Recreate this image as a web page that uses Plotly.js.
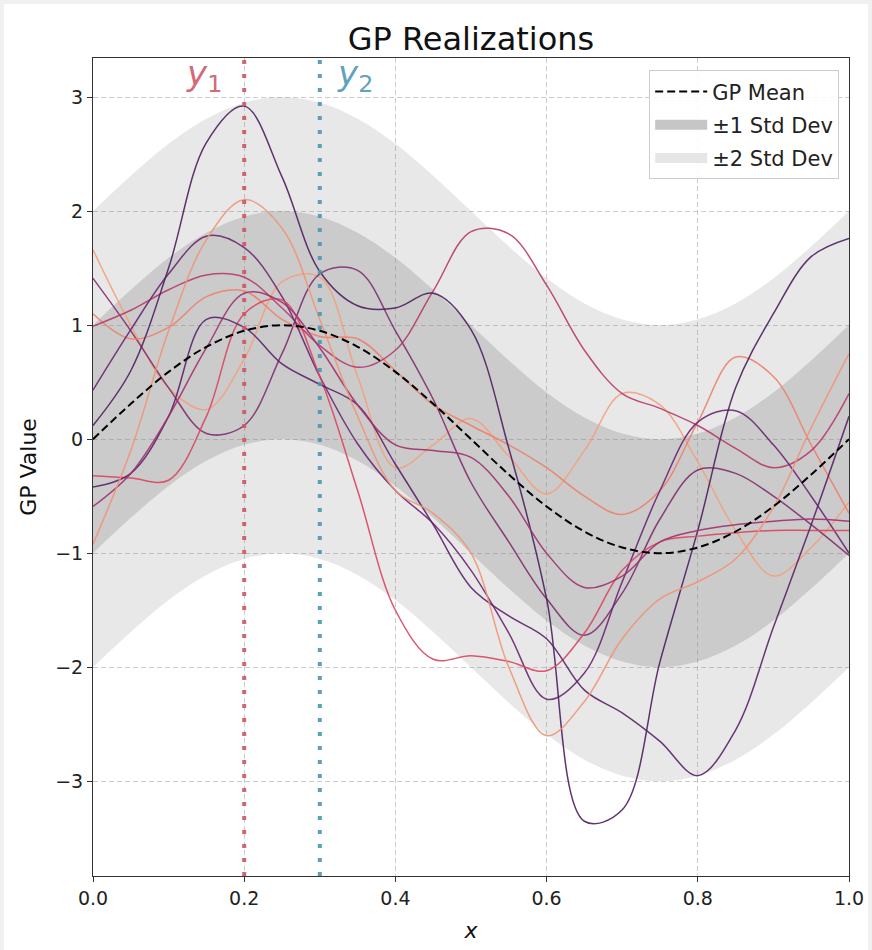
<!DOCTYPE html>
<html>
<head>
<meta charset="utf-8">
<script src="https://cdn.plot.ly/plotly-3.0.1.min.js"></script>
<style>
html, body { margin: 0; padding: 0; background: #f0f0f0; }
#chart { position: absolute; left: 4px; top: 4px; width: 864px; height: 946px; background: #ffffff; }
</style>
</head>
<body>
<div id="chart"></div>
<script>
// ---------------- data ----------------
const xGrid = [0, 0.05, 0.1, 0.15, 0.2, 0.25, 0.3, 0.35, 0.4, 0.45, 0.5,
               0.55, 0.6, 0.65, 0.7, 0.75, 0.8, 0.85, 0.9, 0.95, 1.0];

const gpMean = [0, 0.31, 0.59, 0.81, 0.95, 1.0, 0.95, 0.81, 0.59, 0.31, 0,
                -0.31, -0.59, -0.81, -0.95, -1.0, -0.95, -0.81, -0.59, -0.31, 0];
const gpStd = [1, 1, 1, 1, 1, 1, 1, 1, 1, 1, 1, 1, 1, 1, 1, 1, 1, 1, 1, 1, 1];

const real1  = [1.66, 1.0, 0.45, 0.26, 0.7, 1.38, 1.42, 0.55, -0.25, -0.05, 0.18, -0.15, -0.48, -0.1, 0.4, 0.3, -0.2, -0.8, -1.2, -0.95, -0.55];
const real2  = [1.41, 0.95, 0.45, 0.05, 0.12, 0.75, 1.45, 1.48, 0.95, 0.35, -0.38, -0.9, -1.4, -1.72, -1.35, -0.7, -0.27, -0.3, -0.5, -0.75, -1.02];
const real3  = [1.10, 0.88, 0.98, 1.25, 1.3, 1.05, 0.9, 0.88, 0.6, 0.3, 0.12, -0.05, -0.25, -0.5, -0.66, -0.45, 0.15, 0.72, 0.55, -0.05, -0.65];
const real4  = [0.99, 1.13, 1.31, 1.44, 1.42, 1.15, 0.82, 0.63, 0.78, 1.3, 1.82, 1.8, 1.35, 0.78, 0.4, 0.27, 0.12, -0.08, -0.25, -0.1, 0.4];
const real5  = [0.43, 0.96, 1.45, 1.78, 1.68, 1.25, 0.55, -0.04, -0.45, -0.74, -1.15, -1.7, -2.28, -2.05, -1.25, -0.45, 0.15, 0.25, -0.05, -0.5, -1.0];
const real6  = [0.12, 0.6, 1.5, 2.6, 2.92, 2.3, 1.47, 1.17, 1.15, 1.28, 0.96, -0.08, -1.4, -3.35, -3.25, -1.95, -0.8, 0.45, 1.1, 1.6, 1.76];
const real7  = [-0.32, -0.34, -0.36, 0.2, 1.1, 1.22, 0.55, -0.45, -1.5, -1.93, -1.9, -1.95, -2.03, -1.7, -1.15, -0.9, -0.85, -0.82, -0.8, -0.8, -0.8];
const real8  = [-0.42, -0.3, 0.2, 1.05, 0.98, 0.66, 0.48, 0.3, -0.22, -0.75, -1.3, -1.55, -1.75, -2.2, -2.4, -2.65, -2.95, -2.55, -1.65, -0.75, 0.2];
const real9  = [-0.59, -0.3, 0.2, 0.8, 1.28, 1.2, 0.8, 0.3, -0.05, -0.1, -0.16, -0.5, -1.0, -1.3, -1.2, -0.9, -0.8, -0.75, -0.72, -0.7, -0.72];
const real10 = [-0.92, -0.1, 0.95, 1.75, 2.1, 1.85, 1.05, 0.2, -0.45, -0.65, -1.0, -2.0, -2.6, -2.3, -1.75, -1.4, -1.25, -1.05, -0.6, 0.1, 0.75];

const realizations = [real1, real2, real3, real4, real5, real6, real7, real8, real9, real10];
const realColors = ['#f3a17b', '#7e2d6f', '#ee8068', '#b83a6c', '#6b2572',
                    '#4e1f60', '#d8465f', '#5b2169', '#a1306f', '#f19374'];

const obsX = [0.2, 0.3];
const obsLabels = ['<i>y</i><sub>1</sub>', '<i>y</i><sub>2</sub>'];
const obsColors = ['rgba(205,85,98,0.9)', 'rgba(75,150,180,0.9)'];

const xTicks = [0, 0.2, 0.4, 0.6, 0.8, 1.0];
const yTicks = [-3, -2, -1, 0, 1, 2, 3];

const legendNames = ['GP Mean', '±1 Std Dev', '±2 Std Dev'];
const bandFills = ['rgba(128,128,128,0.28)', 'rgba(128,128,128,0.18)'];
const legendPatchColors = ['#c6c6c6', '#e6e6e6'];

// ---------------- traces ----------------
const band = (k, sign) => gpMean.map((m, i) => m + sign * k * gpStd[i]);
const FONT = 'DejaVu Sans, Arial, sans-serif';

const traces = [];
// legend entries (no marks of their own)
traces.push({x: [null], y: [null], mode: 'lines', name: legendNames[0], legendgroup: 'g0',
             line: {color: '#000000', width: 2, dash: '8px,4px'}});
traces.push({x: [null], y: [null], mode: 'lines', name: legendNames[1], legendgroup: 'g1',
             line: {color: legendPatchColors[0], width: 14}});
traces.push({x: [null], y: [null], mode: 'lines', name: legendNames[2], legendgroup: 'g2',
             line: {color: legendPatchColors[1], width: 14}});

// ±2 band
traces.push({x: xGrid, y: band(2, -1), mode: 'lines', line: {width: 0, shape: 'spline'},
             showlegend: false, hoverinfo: 'skip'});
traces.push({x: xGrid, y: band(2, 1), mode: 'lines', line: {width: 0, shape: 'spline'},
             fill: 'tonexty', fillcolor: bandFills[1], showlegend: false, hoverinfo: 'skip'});
// ±1 band
traces.push({x: xGrid, y: band(1, -1), mode: 'lines', line: {width: 0, shape: 'spline'},
             showlegend: false, hoverinfo: 'skip'});
traces.push({x: xGrid, y: band(1, 1), mode: 'lines', line: {width: 0, shape: 'spline'},
             fill: 'tonexty', fillcolor: bandFills[0], showlegend: false, hoverinfo: 'skip'});

realizations.forEach((r, i) => {
  traces.push({x: xGrid, y: r, mode: 'lines', showlegend: false,
               line: {color: realColors[i], width: 1.5, shape: 'spline', smoothing: 1},
               opacity: 0.9, name: 'sample ' + (i + 1)});
});

traces.push({x: xGrid, y: gpMean, mode: 'lines', showlegend: false, name: 'GP Mean',
             line: {color: '#000000', width: 2, dash: '8px,4px', shape: 'spline'}});

const shapes = obsX.map((xv, i) => ({
  type: 'line', xref: 'x', yref: 'paper', x0: xv, x1: xv, y0: 0, y1: 1, layer: 'above',
  line: {color: obsColors[i], width: 4, dash: '4px,10px'}
}));

const annotations = obsX.map((xv, i) => ({
  x: xv, xref: 'x', y: 0.978, yref: 'paper', text: obsLabels[i], showarrow: false,
  xanchor: i === 0 ? 'right' : 'left', yanchor: 'middle', xshift: i === 0 ? -20 : 15,
  font: {family: FONT, size: 34, color: obsColors[i]}
}));

const axisCommon = {
  showgrid: true, gridcolor: 'rgba(170,170,170,0.75)', gridwidth: 0.8, griddash: '5px,3px',
  zeroline: false, showline: true, linecolor: '#333333', linewidth: 1, mirror: true,
  ticks: 'outside', ticklen: 5, tickwidth: 1, tickcolor: '#333333',
  tickfont: {family: FONT, size: 19, color: '#222222'}
};

const layout = {
  width: 864, height: 946,
  margin: {l: 89, r: 19, t: 54, b: 74, pad: 0},
  paper_bgcolor: '#ffffff', plot_bgcolor: '#ffffff',
  title: {text: 'GP Realizations', x: 0.5405, xanchor: 'center', y: 0.963, yanchor: 'middle',
          font: {family: FONT, size: 32, color: '#111111'}},
  xaxis: Object.assign({}, axisCommon, {
    range: [0, 1], tickvals: xTicks, tickformat: '.1f',
    title: {text: '<i>x</i>', font: {family: FONT, size: 22, color: '#111111'}, standoff: 14}
  }),
  yaxis: Object.assign({}, axisCommon, {
    range: [-3.83, 3.342], tickvals: yTicks,
    title: {text: 'GP Value', font: {family: FONT, size: 22, color: '#111111'}, standoff: 12}
  }),
  legend: {x: 0.987, y: 0.985, xanchor: 'right', yanchor: 'top',
           bgcolor: 'rgba(255,255,255,0.85)', bordercolor: '#cccccc', borderwidth: 1,
           font: {family: FONT, size: 21, color: '#222222'}, itemwidth: 52,
           tracegroupgap: 3, traceorder: 'grouped'},
  shapes: shapes,
  annotations: annotations,
  showlegend: true
};

Plotly.newPlot('chart', traces, layout, {staticPlot: true, displayModeBar: false});
</script>
</body>
</html>
